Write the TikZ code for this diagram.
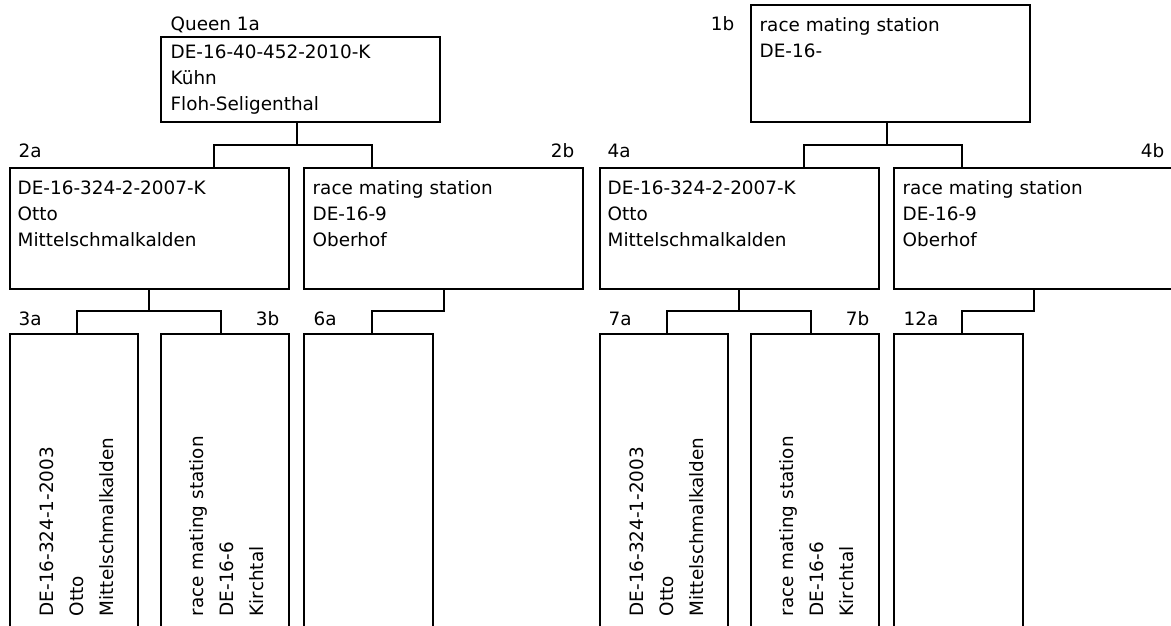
\documentclass[tikz,border=0pt]{standalone}
\usepackage{fontspec}
\setmainfont{DejaVu Sans}
\usetikzlibrary{fit}

\begin{document}
\begin{tikzpicture}[x=0.75pt, y=-0.75pt, line width=1pt,
    box/.style={draw, inner sep=0pt, fit={#1}},
    txt/.style={anchor=base west, align=left, inner sep=0pt, font=\fontsize{13.8}{19.5}\selectfont},
    vtxt/.style={txt, rotate=90, font=\fontsize{13.8}{22.5}\selectfont},
    lbl/.style={inner sep=0pt, font=\fontsize{13.8}{16}\selectfont}]
        \clip (0,0) rectangle (1171,625);
        % left tree
        \node[box={(161,37) (440,122)}] (b1a) {};
        \node[box={(10,168) (289,289)}] (b2a) {};
        \node[box={(304,168) (583,289)}] (b2b) {};
        \node[box={(10,334) (138,640)}] (b3a) {};
        \node[box={(161,334) (289,640)}] (b3b) {};
        \node[box={(304,334) (433,640)}] (b6a) {};
        \node[lbl, anchor=base west] (l1a) at (170,30) {Queen 1a};
        \node[lbl, anchor=base west] (l2a) at (18,157) {2a};
        \node[lbl, anchor=base east] (l2b) at (575,157) {2b};
        \node[lbl, anchor=base west] (l3a) at (18,325) {3a};
        \node[lbl, anchor=base east] (l3b) at (280,325) {3b};
        \node[lbl, anchor=base west] (l6a) at (313,325) {6a};
        % texts sit on their last baseline
        \node[txt] (t1a) at (170,110) {DE-16-40-452-2010-K\\Kühn\\Floh-Seligenthal};
        \node[txt] (t2a) at (17,246) {DE-16-324-2-2007-K\\Otto\\Mittelschmalkalden};
        \node[txt] (t2b) at (312,246) {race mating station\\DE-16-9\\Oberhof};
        \node[vtxt] (t3a) at (113,617) {DE-16-324-1-2003\\Otto\\Mittelschmalkalden};
        \node[vtxt] (t3b) at (263,617) {race mating station\\DE-16-6\\Kirchtal};
        \coordinate (j1a) at (297,145);
        \coordinate (k2a) at (214,145);
        \coordinate (k2b) at (372,145);
        \coordinate (j2a) at (149,311);
        \coordinate (k3a) at (77,311);
        \coordinate (k3b) at (221,311);
        \coordinate (j2b) at (444,311);
        \coordinate (k6a) at (372,311);
        \draw (b1a.south -| j1a) -- (j1a);
        \draw (b2a.north -| k2a) -- (k2a) -- (k2b) -- (b2b.north -| k2b);
        \draw (b2a.south -| j2a) -- (j2a);
        \draw (b3a.north -| k3a) -- (k3a) -- (k3b) -- (b3b.north -| k3b);
        \draw (b2b.south -| j2b) -- (j2b) -- (k6a) -- (b6a.north -| k6a);
        % right tree
        \node[box={(751,5) (1030,122)}] (b1b) {};
        \node[box={(600,168) (879,289)}] (b4a) {};
        \node[box={(894,168) (1173,289)}] (b4b) {};
        \node[box={(600,334) (728,640)}] (b7a) {};
        \node[box={(751,334) (879,640)}] (b7b) {};
        \node[box={(894,334) (1023,640)}] (b12a) {};
        \node[lbl, anchor=base east] (l1b) at (735,30) {1b};
        \node[lbl, anchor=base west] (l4a) at (607,157) {4a};
        \node[lbl, anchor=base east] (l4b) at (1165,157) {4b};
        \node[lbl, anchor=base west] (l7a) at (608,325) {7a};
        \node[lbl, anchor=base east] (l7b) at (870,325) {7b};
        \node[lbl, anchor=base west] (l12a) at (903,325) {12a};
        \node[txt] (t1b) at (759,57) {race mating station\\DE-16-};
        \node[txt] (t4a) at (607,246) {DE-16-324-2-2007-K\\Otto\\Mittelschmalkalden};
        \node[txt] (t4b) at (902,246) {race mating station\\DE-16-9\\Oberhof};
        \node[vtxt] (t7a) at (703,617) {DE-16-324-1-2003\\Otto\\Mittelschmalkalden};
        \node[vtxt] (t7b) at (853,617) {race mating station\\DE-16-6\\Kirchtal};
        \coordinate (j1b) at (887,145);
        \coordinate (k4a) at (804,145);
        \coordinate (k4b) at (962,145);
        \coordinate (j4a) at (739,311);
        \coordinate (k7a) at (667,311);
        \coordinate (k7b) at (811,311);
        \coordinate (j4b) at (1034,311);
        \coordinate (k12a) at (962,311);
        \draw (b1b.south -| j1b) -- (j1b);
        \draw (b4a.north -| k4a) -- (k4a) -- (k4b) -- (b4b.north -| k4b);
        \draw (b4a.south -| j4a) -- (j4a);
        \draw (b7a.north -| k7a) -- (k7a) -- (k7b) -- (b7b.north -| k7b);
        \draw (b4b.south -| j4b) -- (j4b) -- (k12a) -- (b12a.north -| k12a);
\end{tikzpicture}
\end{document}
